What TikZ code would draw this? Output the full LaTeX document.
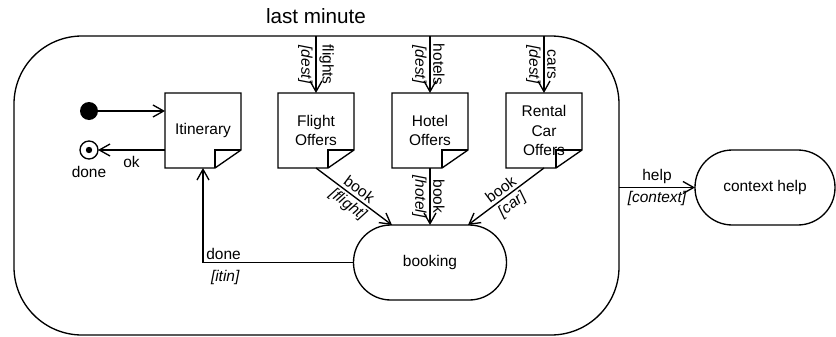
\documentclass[tikz,border=0pt]{standalone}
\usepackage{fontspec}
\setmainfont{Liberation Sans}
\usetikzlibrary{math}
\usetikzlibrary{arrows.meta}

\begin{document}
\begin{tikzpicture}[
	x=0.75pt, y=-0.75pt, line width=1pt,
	font=\fontsize{11.6}{14.5}\selectfont,
	>={Straight Barb[length=8pt, width=9pt]},
	every node/.append style={outer sep=0pt},
	notebox/.style={minimum width=57pt, minimum height=56.25pt, inner sep=0pt, align=center},
	statebox/.style={draw, rounded corners=28pt, minimum height=56.25pt, inner sep=0pt},
	lbl/.style={inner sep=2.5pt},
	guard/.style={lbl, font=\fontsize{11.6}{14.5}\selectfont\itshape},
]
	% Constants
	\tikzmath{
		\foldw = 26; \foldh = 18;
		\notey = 130.5;
	}
	\useasboundingbox (0, 0) rectangle (836, 336);

	% Composite state
	\node (lastmin) [draw, rounded corners=51pt, minimum width=453.75pt, minimum height=224.25pt] at (316.5, 185.5) {};
	\node (title) [font=\fontsize{15.5}{18}\selectfont] at (316, 16) {last minute};

	% Object nodes
	\node (itin) [notebox] at (203, \notey) {Itinerary};
	\node (flight) [notebox] at (316, \notey) {Flight\\Offers};
	\node (hotel) [notebox] at (430, \notey) {Hotel\\Offers};
	\node (car) [notebox] at (544, \notey) {Rental\\Car\\Offers};
	\foreach \n in {itin, flight, hotel, car} {
			% Page with folded corner
			\draw (\n.north west) -- (\n.north east) -- ([shift={(0, -\foldh)}]\n.south east)
				-- ([shift={(-\foldw, 0)}]\n.south east) -- (\n.south west) -- cycle;
			\draw ([shift={(-\foldw, 0)}]\n.south east) -- ([shift={(-\foldw, -\foldh)}]\n.south east)
				-- ([shift={(0, -\foldh)}]\n.south east);
		}

	% Pseudo states
	\node (init) [circle, fill, minimum size=13.5pt, inner sep=0pt] at (89, 111) {};
	\node (final) [circle, draw, minimum size=13.5pt, inner sep=0pt, label={[label distance=2pt]below:done}] at (89, 150) {};
	\fill (final.center) circle (2.4pt);

	% States
	\node (booking) [statebox, minimum width=114.75pt] at (430, 262.5) {booking};
	\node (ctx) [statebox, minimum width=105pt] at (765, 187.5) {context help};

	% Transitions
	\draw[->] (init) -- (itin.west |- init);
	\draw[->] (itin.west |- final) -- (final) node[lbl, midway, below, inner sep=5pt] {ok};
	\draw[->] (flight.north |- lastmin.north) -- (flight.north)
		node[lbl, midway, sloped, above] {flights} node[guard, midway, sloped, below] {[dest]};
	\draw[->] (hotel.north |- lastmin.north) -- (hotel.north)
		node[lbl, midway, sloped, above] {hotels} node[guard, midway, sloped, below] {[dest]};
	\draw[->] (car.north |- lastmin.north) -- (car.north)
		node[lbl, midway, sloped, above] {cars} node[guard, midway, sloped, below] {[dest]};
	\draw[->] (flight.south) -- ([xshift=-28.5pt]booking.north)
		node[lbl, midway, sloped, above] {book} node[guard, midway, sloped, below] {[flight]};
	\draw[->] (hotel.south) -- (hotel.south |- booking.north)
		node[lbl, midway, sloped, above] {book} node[guard, midway, sloped, below] {[hotel]};
	\draw[->] (car.south) -- ([xshift=28.5pt]booking.north)
		node[lbl, midway, sloped, above] {book} node[guard, midway, sloped, below] {[car]};
	\draw[->] (booking.west) -| (itin.south)
		node[lbl, pos=0.5, above right] {done} node[guard, pos=0.5, below right, inner sep=6pt] {[itin]};
	\draw[->] (lastmin.east |- ctx) -- (ctx)
		node[lbl, midway, above] {help} node[guard, midway, below] {[context]};
\end{tikzpicture}
\end{document}
